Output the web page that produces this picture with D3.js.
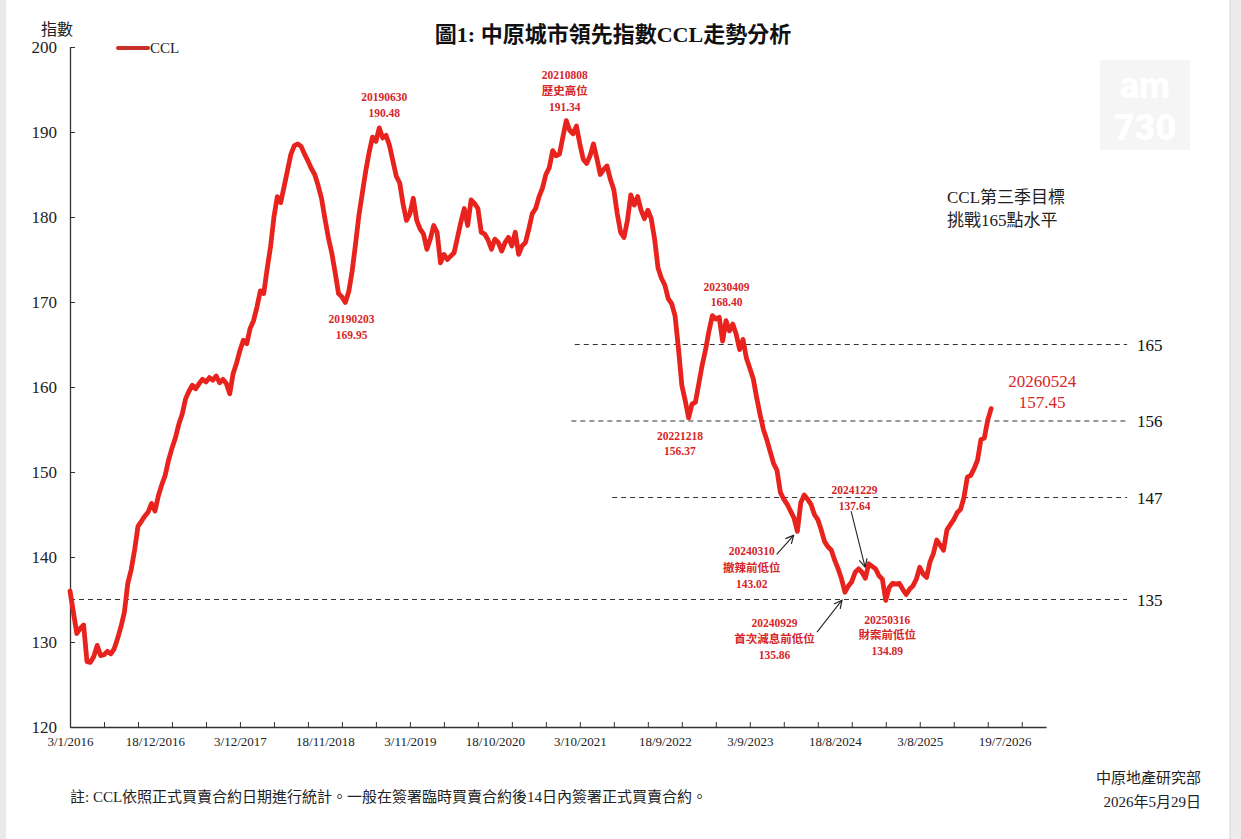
<!DOCTYPE html>
<html>
<head>
<meta charset="utf-8">
<script src="https://cdn.jsdelivr.net/npm/d3@7"></script>
<style>
  body { margin: 0; background: #fff; }
  svg { display: block; }
</style>
</head>
<body>
<div id="chart"></div>
<script>
// CCL weekly readings, sampled every 14 days from 3/1/2016
const startDate = '2016-01-03';
const stepDays = 14;
const ccl = [
  136.0, 133.5, 131.0, 131.6, 132.0, 127.7, 127.6, 128.3, 129.6, 128.4,
  128.5, 128.9, 128.6, 129.2, 130.4, 131.8, 133.5, 136.9, 138.5, 140.8,
  143.6, 144.2, 144.8, 145.3, 146.3, 145.4, 147.2, 148.5, 149.6, 151.4,
  152.8, 154.0, 155.6, 156.8, 158.6, 159.5, 160.2, 159.8, 160.4, 160.9,
  160.6, 161.1, 160.8, 161.3, 160.5, 160.9, 160.4, 159.2, 161.6, 162.8,
  164.3, 165.5, 165.1, 166.9, 167.8, 169.4, 171.3, 171.0, 173.9, 176.5,
  180.0, 182.4, 181.7, 183.6, 185.5, 187.4, 188.4, 188.6, 188.3, 187.4,
  186.6, 185.7, 185.0, 183.7, 182.2, 179.8, 177.6, 175.8, 173.5, 171.0,
  170.6, 169.95, 171.2, 173.6, 176.8, 180.2, 182.8, 185.4, 187.6, 189.4,
  188.9, 190.48, 189.3, 189.6, 188.4, 186.6, 184.8, 184.0, 181.5, 179.6,
  180.4, 182.2, 179.6, 178.6, 178.0, 176.2, 177.4, 179.0, 178.2, 174.6,
  175.6, 175.0, 175.4, 175.8, 177.6, 179.4, 181.0, 179.0, 182.0, 181.6,
  181.0, 178.2, 178.0, 177.3, 176.2, 177.4, 177.0, 176.0, 177.0, 177.6,
  176.6, 178.2, 175.6, 176.6, 177.0, 178.6, 180.4, 181.0, 182.4, 183.4,
  185.0, 185.8, 187.8, 187.2, 187.4, 189.4, 191.34, 190.2, 189.8, 190.7,
  188.6, 186.8, 186.3, 187.2, 188.6, 186.9, 185.0, 185.6, 186.0, 184.4,
  183.2, 180.4, 178.2, 177.6, 179.6, 182.6, 181.4, 182.4, 180.8, 179.8,
  180.8, 179.8, 177.4, 174.0, 172.8, 172.0, 170.4, 169.8, 168.4, 164.6,
  160.2, 158.4, 156.37, 158.0, 158.2, 160.4, 162.6, 164.4, 166.6, 168.40,
  168.0, 168.2, 165.4, 167.8, 166.6, 167.4, 166.2, 164.4, 165.6, 163.4,
  162.2, 161.0, 158.8, 156.8, 155.0, 153.8, 152.4, 151.0, 150.2, 147.6,
  146.8, 146.2, 145.4, 144.6, 143.02, 146.4, 147.3, 146.8, 146.2, 145.0,
  144.4, 143.2, 141.8, 141.2, 140.8, 139.6, 138.6, 137.4, 135.86, 136.6,
  137.1, 138.2, 138.6, 138.2, 137.5, 139.2, 138.9, 138.6, 137.8, 137.4,
  134.89, 136.4, 136.9, 136.8, 136.9, 136.2, 135.6, 136.2, 136.6, 137.4,
  138.8, 138.0, 137.6, 139.4, 140.4, 142.0, 141.4, 140.8, 143.2, 143.8,
  144.4, 145.2, 145.6, 147.0, 149.4, 149.6, 150.4, 151.4, 153.8, 154.0,
  156.1, 157.45
];

const yTicks = [120, 130, 140, 150, 160, 170, 180, 190, 200];
const xLabelDates = ['2016-01-03', '2016-12-18', '2017-12-03', '2018-11-18', '2019-11-03',
  '2020-10-18', '2021-10-03', '2022-09-18', '2023-09-03', '2024-08-18', '2025-08-03', '2026-07-19'];
const xDomain = ['2016-01-03', '2027-01-05'];

// horizontal reference levels and the date each dashed line starts from
const refValues = [165, 156, 147, 135];
const refStart = ['2021-09-12', '2021-08-29', '2022-02-13', '2016-01-03'];
const refEnd = '2027-12-05';

const annDates = ['2019-06-30', '2021-08-08', '2019-02-03', '2023-04-09', '2022-12-18',
  '2024-03-10', '2024-12-29', '2024-09-29', '2025-03-16', '2026-05-24'];
const annValues = [190.48, 191.34, 169.95, 168.40, 156.37, 143.02, 137.64, 135.86, 134.89, 157.45];
const annNotes = ['', '歷史高位', '', '', '', '撤辣前低位', '', '首次減息前低位', '財案前低位', ''];

const title = '圖1: 中原城市領先指數CCL走勢分析';
const seriesName = 'CCL';
const targetText = ['CCL第三季目標', '挑戰165點水平'];
const footnote = '註: CCL依照正式買賣合約日期進行統計。一般在簽署臨時買賣合約後14日內簽署正式買賣合約。';
const source = ['中原地產研究部', '2026年5月29日'];

// layout of each annotation: text offset from its point, line gap, font size, optional arrow
const annLayout = [
  { dx: 5, dy: -27, gap: 16, size: 11.5 },
  { dx: -1.5, dy: -42, gap: 16, size: 11.5 },
  { dx: 8, dy: 21, gap: 16, size: 11.5 },
  { dx: 12.5, dy: -25, gap: 15.5, size: 11.5 },
  { dx: -7, dy: 22, gap: 15.5, size: 11.5 },
  { dx: -44, dy: 24, gap: 16.5, size: 11.5, arrow: [-19, 23, -2, 4] },
  { dx: -12.5, dy: -83, gap: 15.5, size: 11.5, arrow: [-16, -66, -2, -10] },
  { dx: -70.5, dy: 35, gap: 16, size: 11.5, arrow: [-28, 40, -3, 8] },
  { dx: 1.5, dy: 23.5, gap: 15.5, size: 11.5 },
  { dx: 51, dy: -22, gap: 21, size: 17 }
];

const W = 1241, H = 839;
const plot = { left: 70, right: 1046, top: 47, bottom: 727 };
const serif = '"Liberation Serif", "DejaVu Serif", "Noto Sans CJK TC", serif';
const red = '#e8221c';

const parse = d3.timeParse('%Y-%m-%d');
const fmt = d3.timeFormat('%-d/%-m/%Y');
const t0 = parse(startDate);
const data = ccl.map((v, i) => ({ date: d3.timeDay.offset(t0, i * stepDays), value: v }));

const x = d3.scaleTime()
  .domain(xDomain.map(parse))
  .range([plot.left, plot.right]);
const y = d3.scaleLinear()
  .domain([120, 200])
  .range([plot.bottom, plot.top]);

const svg = d3.select('#chart').append('svg')
  .attr('width', W)
  .attr('height', H)
  .style('font-family', serif);

svg.append('rect').attr('width', W).attr('height', H).attr('fill', '#fff');
// scanned page edges
svg.append('rect').attr('x', 0).attr('y', 0).attr('width', 6).attr('height', H).attr('fill', '#e9e9e9');
svg.append('rect').attr('x', 1230).attr('y', 0).attr('width', 11).attr('height', H).attr('fill', '#ececec');
svg.append('line').attr('x1', 1230).attr('x2', 1230).attr('y1', 0).attr('y2', H).attr('stroke', '#d6d6d6');

// am730 watermark (very faint)
const wm = svg.append('g').attr('transform', 'translate(1100,60)');
wm.append('rect').attr('width', 90).attr('height', 90).attr('fill', '#f5f5f5');
wm.append('text').attr('x', 45).attr('y', 38).attr('text-anchor', 'middle')
  .attr('font-family', 'Roboto, sans-serif').attr('font-weight', 900)
  .attr('font-size', 36).attr('fill', '#fff').text('am');
wm.append('text').attr('x', 45).attr('y', 80).attr('text-anchor', 'middle')
  .attr('font-family', 'Roboto, sans-serif').attr('font-weight', 900)
  .attr('font-size', 36).attr('fill', '#fff').text('730');

// title
svg.append('text')
  .attr('x', 613).attr('y', 42)
  .attr('text-anchor', 'middle')
  .attr('font-size', 22)
  .attr('font-weight', 700)
  .attr('fill', '#111')
  .text(title);

svg.append('text')
  .attr('x', 57).attr('y', 35)
  .attr('text-anchor', 'middle')
  .attr('font-size', 16)
  .attr('fill', '#222')
  .text('指數');

// legend
svg.append('line')
  .attr('x1', 118).attr('x2', 148).attr('y1', 48).attr('y2', 48)
  .attr('stroke', '#c9302c').attr('stroke-width', 4).attr('stroke-linecap', 'round');
svg.append('text')
  .attr('x', 150).attr('y', 53)
  .attr('font-size', 15).attr('fill', '#222')
  .text(seriesName);

// Y axis
svg.append('g')
  .attr('transform', `translate(${plot.left},0)`)
  .call(d3.axisLeft(y).tickValues(yTicks).tickSize(-5).tickSizeOuter(0).tickPadding(13))
  .call(g => g.select('.domain').attr('stroke', '#333').attr('stroke-width', 1.3))
  .call(g => g.selectAll('.tick line').attr('stroke', '#333'))
  .call(g => g.selectAll('.tick text').attr('fill', '#222').attr('font-size', 17).attr('font-family', serif));

// X axis: ticks every 140 days, labels every 350 days
const tickDates = d3.range(0, 29).map(i => d3.timeDay.offset(t0, i * 140));
svg.append('g')
  .attr('transform', `translate(0,${plot.bottom})`)
  .call(d3.axisBottom(x).tickValues(tickDates).tickSize(-5).tickSizeOuter(0).tickFormat(''))
  .call(g => g.select('.domain').attr('stroke', '#333').attr('stroke-width', 1.3))
  .call(g => g.selectAll('.tick line').attr('stroke', '#333'));

svg.append('g')
  .attr('transform', `translate(0,${plot.bottom})`)
  .call(d3.axisBottom(x).tickValues(xLabelDates.map(parse)).tickSize(0).tickPadding(10).tickFormat(fmt))
  .call(g => g.select('.domain').remove())
  .call(g => g.selectAll('.tick text').attr('fill', '#222').attr('font-size', 13).attr('font-family', serif));

// dashed reference levels
refValues.forEach((v, i) => {
  svg.append('line')
    .attr('x1', x(parse(refStart[i]))).attr('x2', x(parse(refEnd)))
    .attr('y1', y(v)).attr('y2', y(v))
    .attr('stroke', '#333').attr('stroke-width', 1.2)
    .attr('stroke-dasharray', '5,4');
  svg.append('text')
    .attr('x', x(parse(refEnd)) + 10).attr('y', y(v) + 6)
    .attr('font-size', 17).attr('fill', '#111')
    .text(v);
});

// CCL line
const line = d3.line()
  .x(d => x(d.date))
  .y(d => y(d.value));
svg.append('path')
  .datum(data)
  .attr('fill', 'none')
  .attr('stroke', red)
  .attr('stroke-width', 4.8)
  .attr('stroke-linejoin', 'round')
  .attr('stroke-linecap', 'round')
  .attr('d', line);

// annotations
svg.append('defs').append('marker')
  .attr('id', 'arr')
  .attr('viewBox', '0 0 10 10')
  .attr('refX', 9).attr('refY', 5)
  .attr('markerWidth', 9).attr('markerHeight', 9)
  .attr('orient', 'auto')
  .append('path')
  .attr('d', 'M1,1 L9,5 L1,9')
  .attr('fill', 'none').attr('stroke', '#222').attr('stroke-width', 1.2);

annDates.forEach((d, i) => {
  const L = annLayout[i];
  const px = x(parse(d)), py = y(annValues[i]);
  const lines = [d.replace(/-/g, '')];
  if (annNotes[i]) lines.push(annNotes[i]);
  lines.push(annValues[i].toFixed(2));
  const t = svg.append('text')
    .attr('text-anchor', 'middle')
    .attr('font-size', L.size)
    .attr('font-weight', L.size > 12 ? 400 : 700)
    .attr('fill', '#d6262a');
  lines.forEach((s, k) => {
    t.append('tspan')
      .attr('x', px + L.dx)
      .attr('y', py + L.dy + k * L.gap)
      .text(s);
  });
  if (L.arrow) {
    svg.append('line')
      .attr('x1', px + L.arrow[0]).attr('y1', py + L.arrow[1])
      .attr('x2', px + L.arrow[2]).attr('y2', py + L.arrow[3])
      .attr('stroke', '#222').attr('stroke-width', 1.1)
      .attr('marker-end', 'url(#arr)');
  }
});

// target note
const tn = svg.append('text').attr('font-size', 17).attr('fill', '#222');
targetText.forEach((s, k) => {
  tn.append('tspan').attr('x', 947).attr('y', 203 + k * 23).text(s);
});

// footer
svg.append('text')
  .attr('x', 70).attr('y', 802)
  .attr('font-size', 15).attr('fill', '#222')
  .text(footnote);
source.forEach((s, k) => {
  svg.append('text')
    .attr('x', 1201).attr('y', 783 + k * 24)
    .attr('text-anchor', 'end')
    .attr('font-size', 15).attr('fill', '#222')
    .text(s);
});
</script>
</body>
</html>
